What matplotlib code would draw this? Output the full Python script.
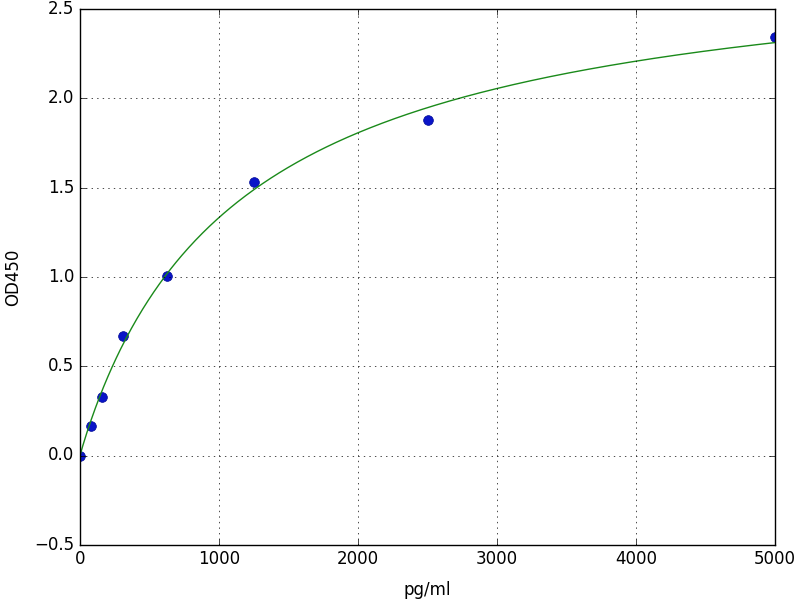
import matplotlib
matplotlib.use('Agg')
import matplotlib.pyplot as plt
import numpy as np

conc = [0, 78.125, 156.25, 312.5, 625, 1250, 2500, 5000]
od = [0.0, 0.165, 0.33, 0.67, 1.005, 1.53, 1.88, 2.343]


def model(x, p):
    top, c, b = p
    x = np.asarray(x, dtype=float)
    return top * x ** b / (c ** b + x ** b)


def fit(x, y, p0, n_iter=200):
    # small gauss-newton / LM fit, no scipy needed
    p = np.array(p0, dtype=float)
    lam = 1e-3
    for _ in range(n_iter):
        r = y - model(x, p)
        J = np.zeros((len(x), len(p)))
        for k in range(len(p)):
            dp = np.zeros_like(p)
            dp[k] = 1e-6 * max(abs(p[k]), 1.0)
            J[:, k] = (model(x, p + dp) - model(x, p)) / dp[k]
        A = J.T @ J
        step = np.linalg.solve(A + lam * np.diag(np.diag(A)), J.T @ r)
        p_new = p + step
        if np.sum((y - model(x, p_new)) ** 2) < np.sum(r ** 2):
            p = p_new
            lam *= 0.5
        else:
            lam *= 4
    return p


x = np.array(conc)
y = np.array(od)
params = fit(x, y, [2.85, 1143.0, 1.0])

plt.style.use('classic')
fig = plt.figure(figsize=(8, 6), dpi=100)
ax = fig.add_subplot(111)

xs = np.linspace(0, 5000, 500)
ax.plot(conc, od, 'o', color='#0a14c8', markeredgecolor='#000a96', markersize=7)
ax.plot(xs, model(xs, params), '-', color='#1a8a1a')

ax.set_xlim(0, 5000)
ax.set_ylim(-0.5, 2.5)
ax.set_xlabel('pg/ml', labelpad=9)
ax.set_ylabel('OD450', labelpad=9)
ax.grid(True)

fig.subplots_adjust(left=0.1, right=0.969, top=0.985, bottom=0.092)
plt.savefig('out.png', dpi=100)
